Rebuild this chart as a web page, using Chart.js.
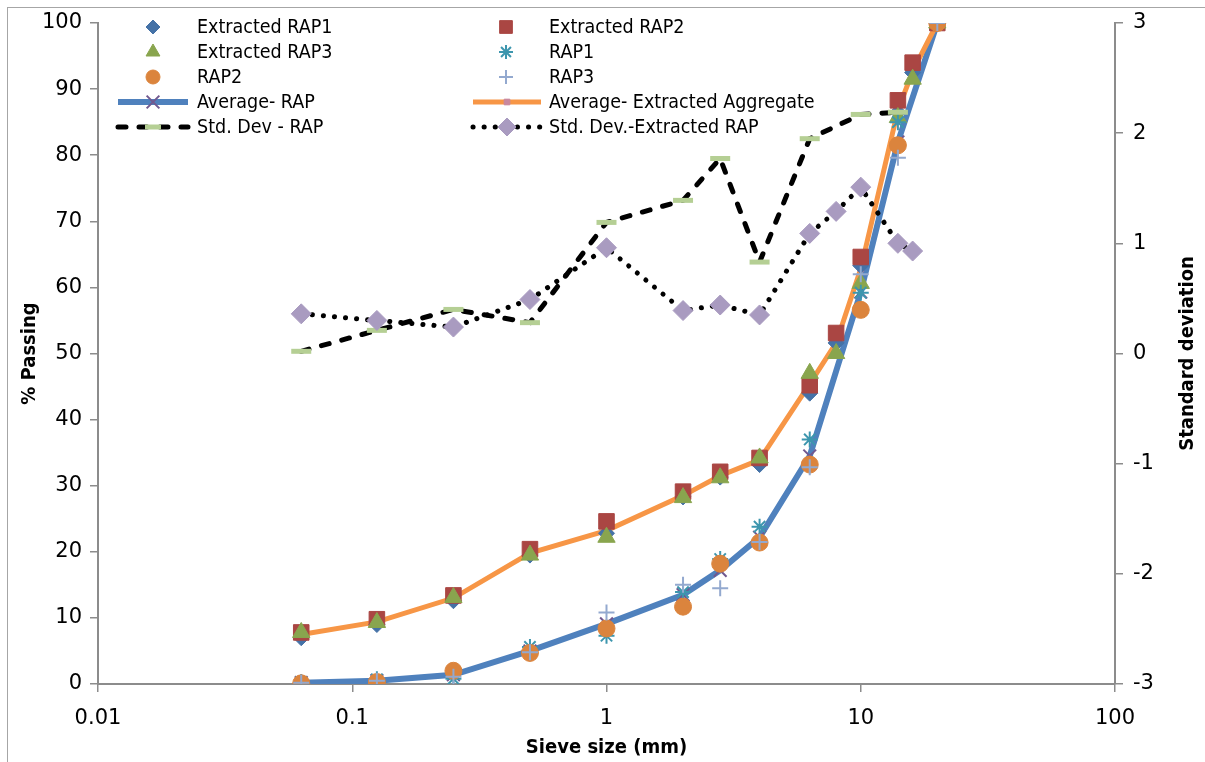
<!DOCTYPE html>
<html>
<head>
<meta charset="utf-8">
<script src="https://cdn.jsdelivr.net/npm/chart.js@4.4.1/dist/chart.umd.min.js"></script>
<style>
  body { margin: 0; background: #fff; }
  #wrap { position: relative; width: 1205px; height: 762px; overflow: hidden; }
  #frame { position: absolute; left: 7px; top: 7px; width: 1300px; height: 900px; border: 1px solid #a6a6a6; }
  canvas { position: absolute; left: 0; top: 0; }
</style>
</head>
<body>
<div id="wrap">
  <div id="frame"></div>
  <canvas id="gradation" width="1205" height="762"></canvas>
</div>
<script>
// Sieve sizes (mm)
const sieveExtracted = [0.063, 0.125, 0.25, 0.5, 1, 2, 2.8, 4, 6.3, 8, 10, 14, 16, 20];
const sieveRap = [0.063, 0.125, 0.25, 0.5, 1, 2, 2.8, 4, 6.3, 10, 14, 20];
const sieveSdRap = [0.063, 0.125, 0.25, 0.5, 1, 2, 2.8, 4, 6.3, 10, 14];
const sieveSdExtracted = [0.063, 0.125, 0.25, 0.5, 1, 2, 2.8, 4, 6.3, 8, 10, 14, 16];

// % passing
const extractedRap1 = [7.0, 9.0, 12.6, 19.5, 22.8, 28.3, 31.3, 33.2, 44.0, 51.6, 63.3, 86.5, 92.5, 100];
const extractedRap2 = [7.8, 9.8, 13.4, 20.4, 24.6, 29.1, 32.1, 34.2, 45.2, 53.1, 64.6, 88.3, 94.0, 100];
const extractedRap3 = [7.8, 9.3, 13.1, 19.5, 22.2, 28.2, 31.2, 34.2, 47.0, 50.0, 60.6, 85.7, 91.5, 100];
const avgExtracted = [7.5, 9.4, 13.0, 19.8, 23.2, 28.5, 31.5, 33.9, 45.4, 51.6, 62.8, 86.8, 92.7, 100];

const rap1 = [0.3, 0.7, 0.8, 5.6, 7.3, 13.9, 18.9, 23.8, 37.0, 59.2, 85.0, 100];
const rap2 = [0.1, 0.3, 2.0, 4.7, 8.4, 11.7, 18.2, 21.4, 33.2, 56.6, 81.5, 100];
const rap3 = [0.2, 0.5, 1.1, 4.8, 10.8, 15.0, 14.5, 21.5, 32.8, 62.0, 79.6, 100];
const avgRap = [0.2, 0.5, 1.4, 5.0, 9.1, 13.5, 17.2, 22.2, 34.5, 59.3, 82.0, 100];

// standard deviation
const sdRap = [0.02, 0.21, 0.40, 0.28, 1.19, 1.39, 1.77, 0.83, 1.95, 2.17, 2.19];
const sdExtracted = [0.36, 0.30, 0.24, 0.49, 0.96, 0.39, 0.44, 0.35, 1.09, 1.29, 1.51, 1.00, 0.93];

const xTickValues = [0.01, 0.1, 1, 10, 100];

const pts = (xs, ys) => ys.map((y, i) => ({ x: xs[i], y: y }));

const marker = (label, xs, ys, style, color, radius, order, extra) => Object.assign({
    label: label,
    data: pts(xs, ys),
    showLine: false,
    pointStyle: style,
    pointRadius: radius,
    pointBackgroundColor: color,
    pointBorderColor: color,
    pointBorderWidth: 1,
    order: order
}, extra || {});

const tickFont = { family: 'DejaVu Sans', size: 21 };
const titleFont = { family: 'DejaVu Sans Condensed', size: 20, weight: 'bold' };
const axisGray = '#8c8c8c';

// legend drawn inside the plot, two columns like the original
const legendInside = {
    id: 'legendInside',
    afterDraw(chart) {
        const ctx = chart.ctx;
        const cols = [{ mark: 153, x0: 118, x1: 188, text: 197 }, { mark: 506, x0: 473, x1: 541, text: 549 }];
        const rows = [27, 52, 77, 102, 127];
        ctx.save();
        chart.data.datasets.forEach((ds, i) => {
            const c = cols[i % 2];
            const y = rows[Math.floor(i / 2)];
            if (ds.showLine) {
                ctx.save();
                ctx.strokeStyle = ds.borderColor;
                ctx.lineWidth = ds.borderWidth;
                ctx.lineCap = ds.borderCapStyle || 'butt';
                ctx.setLineDash(ds.borderDash || []);
                ctx.beginPath();
                ctx.moveTo(c.x0, y);
                ctx.lineTo(c.x1, y);
                ctx.stroke();
                ctx.restore();
            }
            ctx.save();
            ctx.fillStyle = ds.pointBackgroundColor;
            ctx.strokeStyle = ds.pointBorderColor;
            ctx.lineWidth = ds.pointBorderWidth;
            Chart.helpers.drawPoint(ctx, {
                pointStyle: ds.pointStyle,
                radius: ds.legendRadius || ds.pointRadius,
                rotation: 0,
                borderWidth: ds.pointBorderWidth
            }, ds.showLine ? (c.x0 + c.x1) / 2 : c.mark, y);
            ctx.restore();
            ctx.fillStyle = '#000';
            ctx.font = '19.5px "DejaVu Sans Condensed"';
            ctx.textBaseline = 'middle';
            ctx.fillText(ds.label, c.text, y + 1);
        });

        // right axis title, reading bottom to top like the left one
        const y2 = chart.scales.y2;
        ctx.save();
        ctx.translate(1188, (y2.top + y2.bottom) / 2);
        ctx.rotate(-Math.PI / 2);
        ctx.font = 'bold 20px "DejaVu Sans Condensed"';
        ctx.fillStyle = '#000';
        ctx.textAlign = 'center';
        ctx.textBaseline = 'middle';
        ctx.fillText('Standard deviation', 0, 0);
        ctx.restore();
        ctx.restore();
    }
};

new Chart(document.getElementById('gradation'), {
    type: 'scatter',
    data: {
        datasets: [
            marker('Extracted RAP1', sieveExtracted, extractedRap1, 'rectRot', '#4572A7', 8, 12, { legendRadius: 7 }),
            marker('Extracted RAP2', sieveExtracted, extractedRap2, 'rect', '#AA4643', 11, 11, { legendRadius: 9 }),
            marker('Extracted RAP3', sieveExtracted, extractedRap3, 'triangle', '#89A54E', 10, 10, { legendRadius: 8 }),
            marker('RAP1', sieveRap, rap1, 'star', '#3D96AE', 8, 9, { pointBorderWidth: 2, legendRadius: 7 }),
            marker('RAP2', sieveRap, rap2, 'circle', '#DB843D', 8.5, 8, { legendRadius: 7 }),
            marker('RAP3', sieveRap, rap3, 'cross', '#93A9CF', 8, 7, { pointBorderWidth: 2, legendRadius: 7 }),
            {
                label: 'Average- RAP',
                data: pts(sieveRap, avgRap),
                showLine: true,
                borderColor: '#4F81BD',
                borderWidth: 6,
                pointStyle: 'crossRot',
                pointRadius: 9,
                pointBackgroundColor: '#71588F',
                pointBorderColor: '#71588F',
                pointBorderWidth: 2,
                order: 21
            },
            {
                label: 'Average- Extracted Aggregate',
                data: pts(sieveExtracted, avgExtracted),
                showLine: true,
                borderColor: '#F79646',
                borderWidth: 5,
                pointStyle: 'rect',
                pointRadius: 4,
                pointBackgroundColor: '#C9889F',
                pointBorderColor: '#C9889F',
                pointBorderWidth: 1,
                order: 20
            },
            {
                label: 'Std. Dev - RAP',
                data: pts(sieveSdRap, sdRap),
                yAxisID: 'y2',
                showLine: true,
                borderColor: '#000',
                borderWidth: 5,
                borderDash: [8, 13],
                borderCapStyle: 'round',
                pointStyle: 'line',
                pointRadius: 10,
                pointBackgroundColor: '#B5CF94',
                pointBorderColor: '#B5CF94',
                pointBorderWidth: 5,
                order: 3,
                legendRadius: 8
            },
            {
                label: 'Std. Dev.-Extracted RAP',
                data: pts(sieveSdExtracted, sdExtracted),
                yAxisID: 'y2',
                showLine: true,
                borderColor: '#000',
                borderWidth: 5,
                borderDash: [0.1, 11],
                borderCapStyle: 'round',
                pointStyle: 'rectRot',
                pointRadius: 10,
                pointBackgroundColor: '#A99BC0',
                pointBorderColor: '#A99BC0',
                pointBorderWidth: 1,
                order: 2,
                legendRadius: 9
            }
        ]
    },
    options: {
        responsive: false,
        animation: false,
        layout: { padding: { top: 23, left: 0, right: 0, bottom: 0 } },
        elements: { line: { tension: 0 } },
        plugins: { legend: { display: false }, tooltip: { enabled: false } },
        scales: {
            x: {
                type: 'logarithmic',
                min: 0.01,
                max: 100,
                afterBuildTicks: (s) => { s.ticks = xTickValues.map(v => ({ value: v })); },
                afterFit: (s) => { s.height = 78; },
                ticks: {
                    font: tickFont, color: '#000', padding: 14, maxRotation: 0,
                    callback: (v) => String(v)
                },
                grid: { display: true, drawOnChartArea: false, drawTicks: true, tickLength: 8, color: axisGray, lineWidth: 1.5 },
                border: { display: true, color: axisGray, width: 2 },
                title: { display: true, text: 'Sieve size (mm)', font: titleFont, color: '#000', padding: { top: 0, bottom: 2 } }
            },
            y: {
                position: 'left',
                min: 0,
                max: 100,
                afterFit: (s) => { s.width = 98; },
                ticks: { stepSize: 10, font: tickFont, color: '#000', padding: 8 },
                grid: { display: true, drawOnChartArea: false, drawTicks: true, tickLength: 8, color: axisGray, lineWidth: 1.5 },
                border: { display: true, color: axisGray, width: 2 },
                title: { display: true, text: '% Passing', font: titleFont, color: '#000', padding: { top: 18, bottom: 0 } }
            },
            y2: {
                position: 'right',
                min: -3,
                max: 3,
                afterFit: (s) => { s.width = 90; },
                ticks: { stepSize: 1, font: tickFont, color: '#000', padding: 10 },
                grid: { display: true, drawOnChartArea: false, drawTicks: true, tickLength: 8, color: axisGray, lineWidth: 1.5 },
                border: { display: true, color: axisGray, width: 2 },
                title: { display: false }
            }
        }
    },
    plugins: [legendInside]
});
</script>
</body>
</html>
